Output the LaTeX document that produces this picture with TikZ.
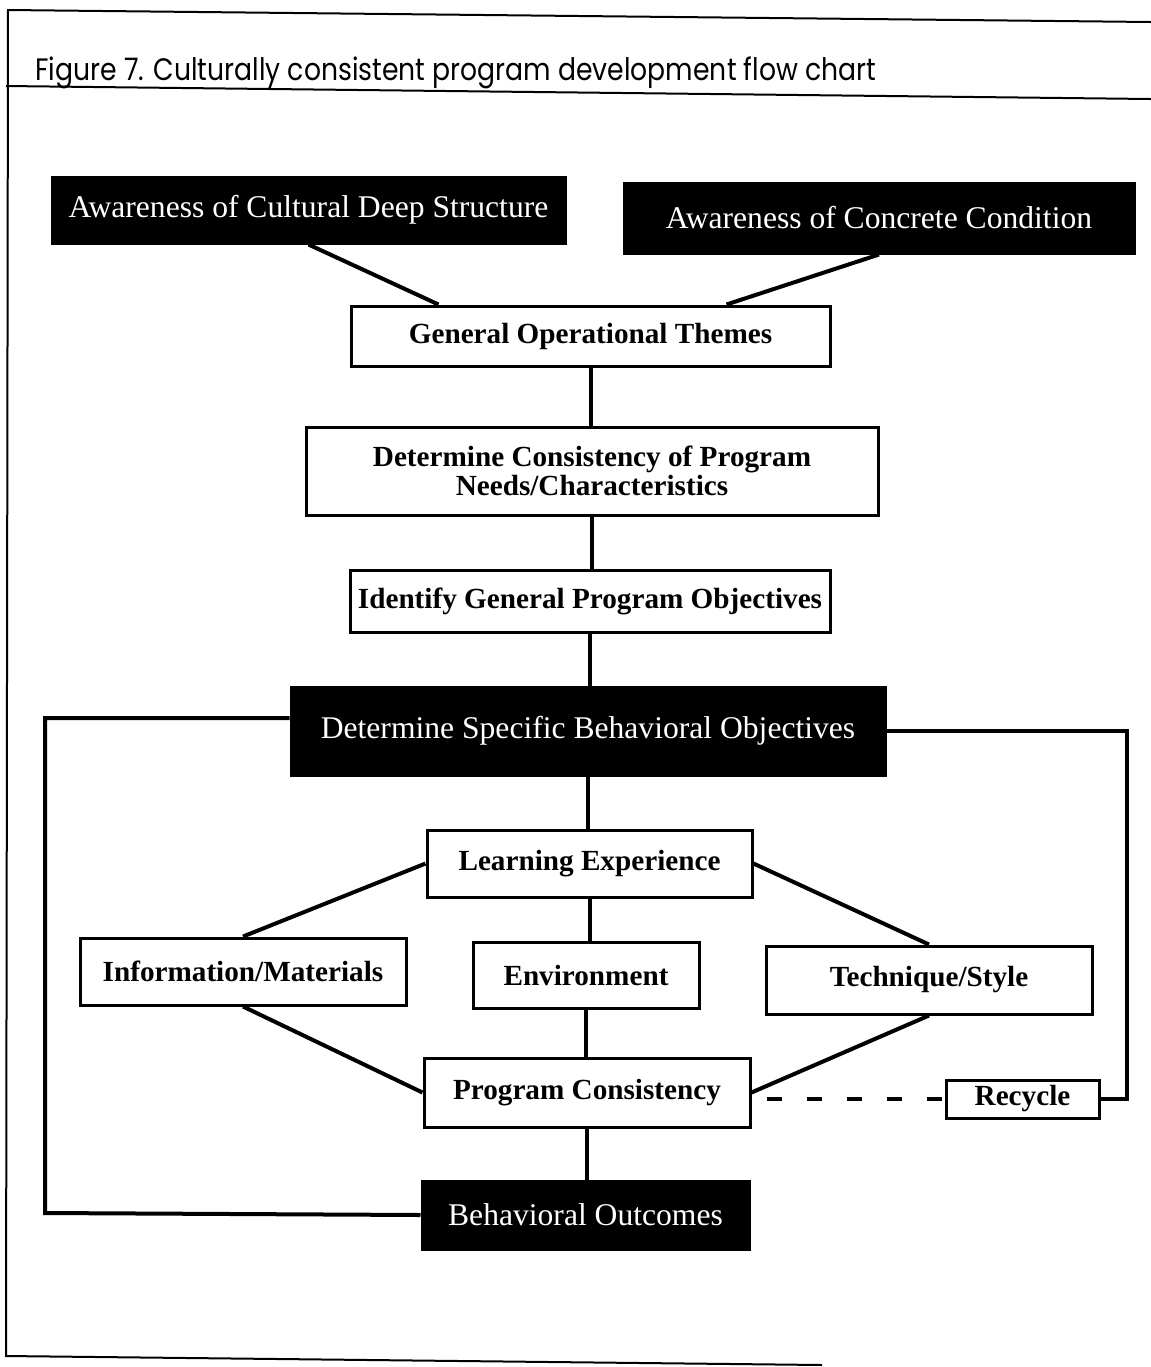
\documentclass[tikz,border=0pt]{standalone}
\usepackage{fontspec}
\setmainfont{Liberation Serif}
\newfontfamily\captionfont[FakeStretch=0.86]{Poppins}
\usetikzlibrary{calc}
\tikzset{
  darkbox/.style   = {draw=black,fill=black,text=white,line width=1.5pt,inner sep=0pt,align=center,font=\fontsize{15.8}{13}\selectfont},
  lightbox/.style  = {draw=black,fill=white,line width=1.5pt,inner sep=0pt,align=center,font=\fontsize{14.6}{13}\selectfont\bfseries},
  link/.style      = {line width=2pt},
  dashlink/.style  = {line width=2pt,dash pattern=on 7.5pt off 12.5pt,dash phase=12.5pt},
  frameline/.style = {line width=1pt}
}

\begin{document}
\begin{tikzpicture}[x=0.5pt,y=-0.5pt]
  \useasboundingbox (0,0) rectangle (1151,1367);
  \draw[frameline] (1151,22) -- (8,10) -- (6,1356) -- (822,1365);
  \draw[frameline] (6,86) -- (1151,99);
  \node[anchor=base west,inner sep=0pt,font=\captionfont\fontsize{15.5}{17}\selectfont] (caption) at (35,80)
       {Figure 7. Culturally consistent program development flow chart};

  \node[darkbox,minimum width=256.5pt,minimum height=33pt] (cult) at (308.5,210) {Awareness of Cultural Deep Structure};
  \node[darkbox,minimum width=255pt,minimum height=35pt] (conc) at (879,218) {Awareness of Concrete Condition};
  \node[lightbox,minimum width=239.5pt,minimum height=30pt] (themes) at (590.5,336) {General Operational Themes};
  \node[lightbox,minimum width=286pt,minimum height=44pt] (consist) at (592,471) {Determine Consistency of Program\\Needs/Characteristics};
  \node[lightbox,minimum width=240pt,minimum height=31pt] (ident) at (590,601) {Identify General Program Objectives};
  \node[darkbox,minimum width=297pt,minimum height=44pt] (specific) at (588,731) {Determine Specific Behavioral Objectives};
  \node[lightbox,minimum width=162.5pt,minimum height=33.5pt] (learn) at (589.5,863.5) {Learning Experience};
  \node[lightbox,minimum width=163pt,minimum height=33.5pt] (info) at (243,971.5) {Information/Materials};
  \node[lightbox,minimum width=113pt,minimum height=33pt] (envir) at (586,975) {Environment};
  \node[lightbox,minimum width=163pt,minimum height=34pt] (tech) at (929,980) {Technique/Style};
  \node[lightbox,minimum width=163pt,minimum height=34.5pt] (progc) at (587,1092.5) {Program Consistency};
  \node[lightbox,minimum width=76.5pt,minimum height=19pt] (recycle) at (1022.5,1099) {Recycle};
  \node[darkbox,minimum width=163.5pt,minimum height=34pt] (outcomes) at (585.5,1215) {Behavioral Outcomes};

  \coordinate (rtop) at (1127,731);
  \coordinate (lbot) at (45,1213);

  \draw[link] (cult.south) -- ($(themes.north west)+(89,0)$);
  \draw[link] (conc.south) -- ($(themes.north west)+(377,0)$);
  \foreach \a/\b in {themes/consist,consist/ident,ident/specific,specific/learn,learn/envir,envir/progc,progc/outcomes}
    \draw[link] (\a.south) -- (\a.south |- \b.north);
  \draw[link] (learn.west) -- (info.north);
  \draw[link] (learn.east) -- (tech.north);
  \draw[link] (info.south) -- (progc.west);
  \draw[link] (tech.south) -- (progc.east);
  \draw[dashlink] (progc.east |- recycle.west) -- (recycle.west);
  \draw[link] (recycle.east) -| (rtop) -- (specific.east);
  \draw[link] ([yshift=6.5pt]specific.west) -| (lbot) -- (outcomes.west);
\end{tikzpicture}
\end{document}
